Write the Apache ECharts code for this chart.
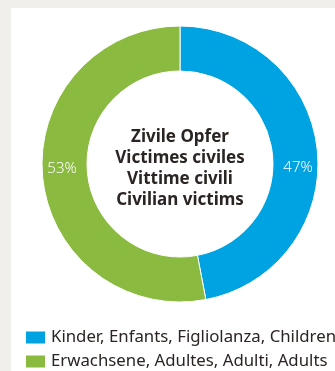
<!DOCTYPE html>
<html><head><meta charset="utf-8">
<script src="https://cdn.jsdelivr.net/npm/echarts@6/dist/echarts.min.js"></script>
<style>html,body{margin:0;padding:0;background:#f0efeb;}#c{width:335px;height:371px;}</style>
</head><body><div id="c"></div>
<script>
const categories = ['Kinder, Enfants, Figliolanza, Children', 'Erwachsene, Adultes, Adulti, Adults'];
const values = [47, 53];
const colors = ['#00a3e2', '#8aba3f'];
const centerTitle = 'Zivile Opfer\nVictimes civiles\nVittime civili\nCivilian victims';

const cx = 180, cy = 164;
const labelOffsets = [[0, 15], [0, -6]];

const chart = echarts.init(document.getElementById('c'), null, {renderer: 'canvas'});
chart.setOption({
  backgroundColor: '#f0efeb',
  animation: false,
  graphic: [
    {type: 'rect', shape: {x: 11, y: 8, width: 324, height: 363}, style: {fill: '#ffffff'}, z: -10},
    {type: 'text', x: cx, y: cy + 5, z: 10, style: {text: centerTitle, font: 'bold 17px "Noto Sans"', fill: '#2a2522', align: 'center', verticalAlign: 'middle', lineHeight: 21}}
  ],
  legend: {
    orient: 'vertical', left: 24, top: 329, height: 60, padding: 0,
    itemWidth: 21, itemHeight: 14, itemGap: 7,
    icon: 'rect',
    textStyle: {fontFamily: 'Noto Sans', fontSize: 16.8, lineHeight: 16, color: '#2a2522'},
    data: categories
  },
  series: [{
    type: 'pie', center: [cx, cy], radius: [93, 138], startAngle: 90, clockwise: true,
    avoidLabelOverlap: false,
    itemStyle: {borderColor: '#ffffff', borderWidth: 1},
    label: {position: 'inside', formatter: '{c}%', color: '#ffffff', fontFamily: 'Noto Sans', fontSize: 15, fontWeight: 300},
    labelLine: {show: false},
    emphasis: {disabled: true},
    data: categories.map((n, i) => ({name: n, value: values[i], itemStyle: {color: colors[i]}, label: {offset: labelOffsets[i]}}))
  }]
});
</script></body></html>
